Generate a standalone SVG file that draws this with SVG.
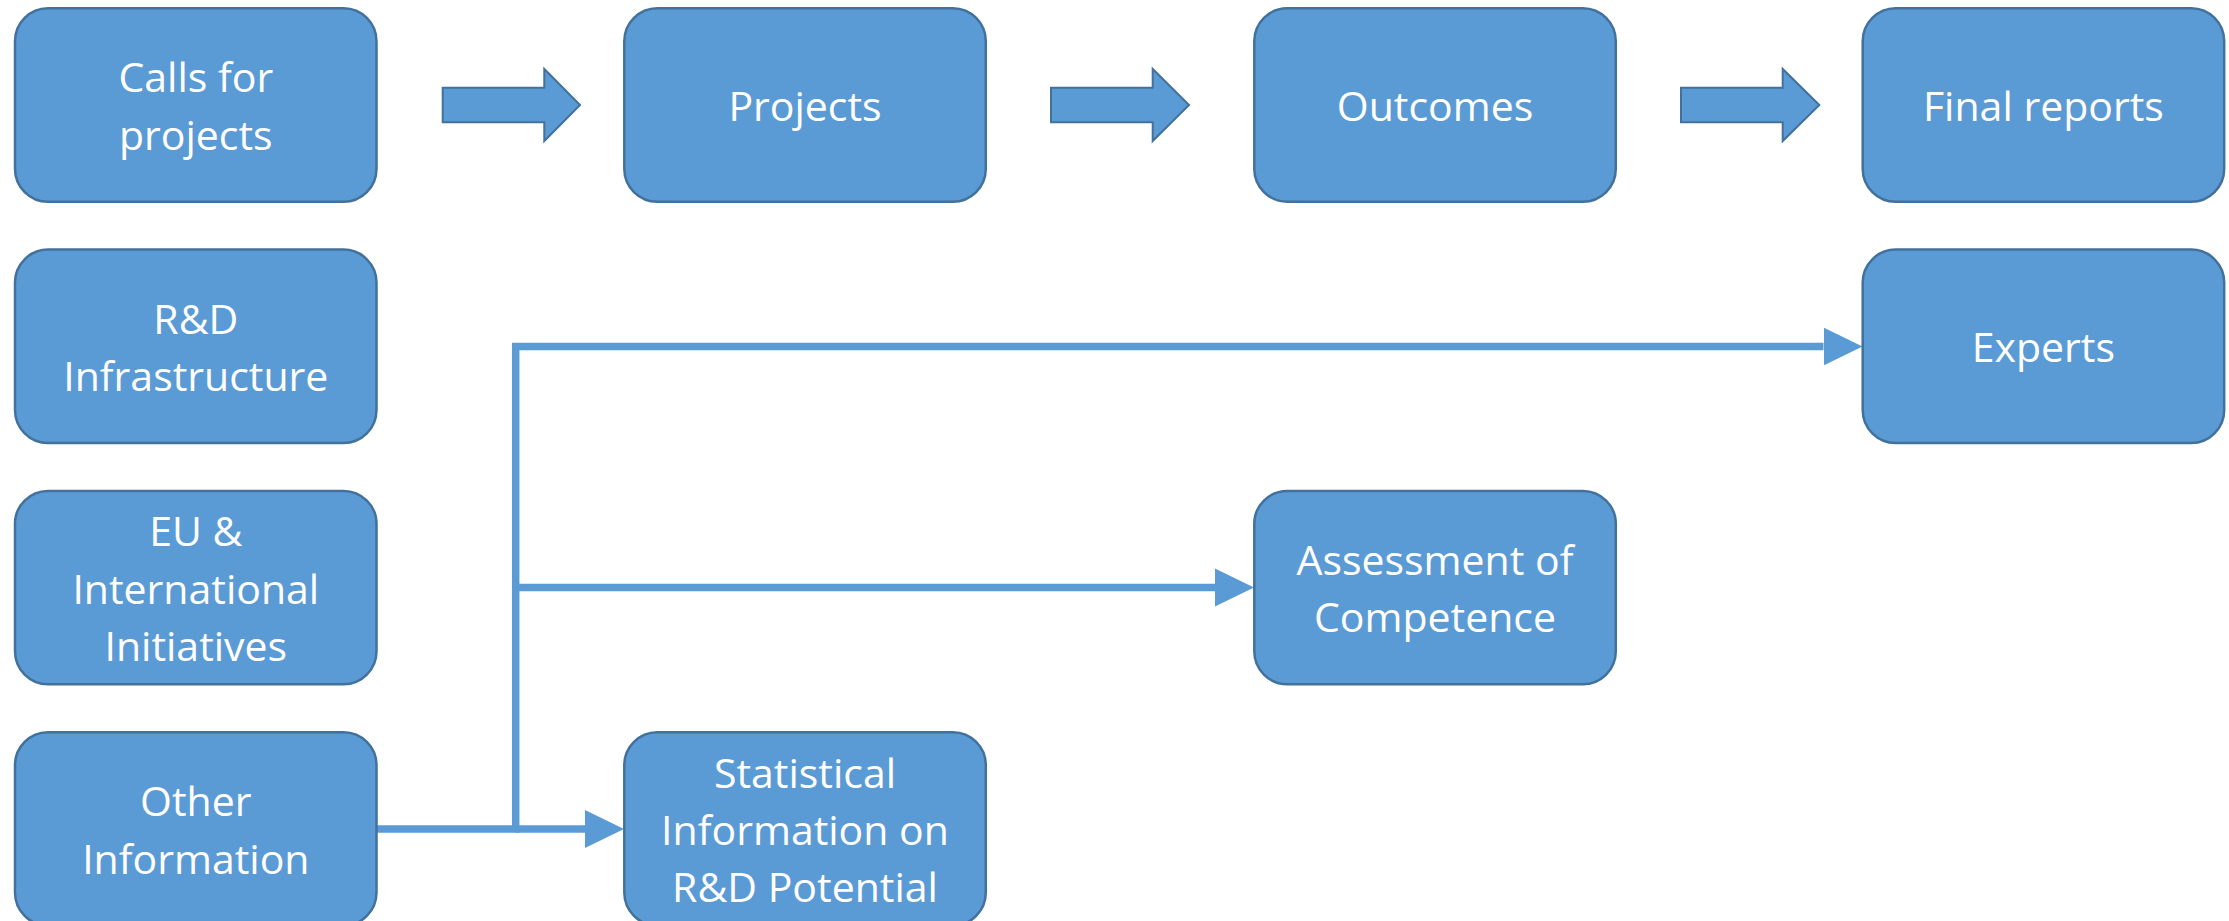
<svg xmlns="http://www.w3.org/2000/svg" width="2229" height="921" viewBox="0 0 2229 921">
<style>
.box{fill:#5B9BD5;stroke:#41719C;stroke-width:2.5}
.blk{fill:#5B9BD5;stroke:#41719C;stroke-width:2;stroke-linejoin:miter}
.lbl{font-family:"Open Sans","Noto Sans",sans-serif;font-size:41px;fill:#FFFFFF;text-anchor:middle}
.con{fill:none;stroke:#5B9BD5;stroke-width:7.5;stroke-linejoin:miter}
</style>
<defs>
<marker id="ah" markerUnits="userSpaceOnUse" markerWidth="40" markerHeight="40" refX="0" refY="19" orient="auto" viewBox="0 0 40 38">
<path d="M0,0 L39,19 L0,38 Z" fill="#5B9BD5"/>
</marker>
</defs>
<rect width="2229" height="921" fill="#FFFFFF"/>

<g id="connectors">
<path class="con" d="M376.7,828.9 H515.7 V346.5 H1823.5" marker-end="url(#ah)"/>
<path class="con" d="M515.7,587.5 H1215" marker-end="url(#ah)"/>
<path class="con" d="M515.7,828.9 H585" marker-end="url(#ah)"/>
<polygon class="blk" points="442.7,87.7 544.3,87.7 544.3,69 580,105 544.3,141 544.3,122.3 442.7,122.3"/>
<polygon class="blk" points="1051,87.7 1152.7,87.7 1152.7,69 1189,105 1152.7,141 1152.7,122.3 1051,122.3"/>
<polygon class="blk" points="1681,87.7 1782.7,87.7 1782.7,69 1819.3,105 1782.7,141 1782.7,122.3 1681,122.3"/>
</g>

<g id="calls">
<rect class="box" x="15" y="8.3" width="361.5" height="193.4" rx="33" ry="33"/>
<text class="lbl" x="195.8" y="92.4">Calls for</text>
<text class="lbl" x="195.8" y="149.7">projects</text>
</g>
<g id="projects">
<rect class="box" x="624.3" y="8.3" width="361.5" height="193.4" rx="33" ry="33"/>
<text class="lbl" x="805" y="121">Projects</text>
</g>
<g id="outcomes">
<rect class="box" x="1254.3" y="8.3" width="361.5" height="193.4" rx="33" ry="33"/>
<text class="lbl" x="1435" y="121">Outcomes</text>
</g>
<g id="final">
<rect class="box" x="1862.7" y="8.3" width="361.5" height="193.4" rx="33" ry="33"/>
<text class="lbl" x="2043.4" y="121">Final reports</text>
</g>
<g id="rd">
<rect class="box" x="15" y="249.6" width="361.5" height="193.4" rx="33" ry="33"/>
<text class="lbl" x="195.8" y="333.7">R&amp;D</text>
<text class="lbl" x="195.8" y="391">Infrastructure</text>
</g>
<g id="experts">
<rect class="box" x="1862.7" y="249.6" width="361.5" height="193.4" rx="33" ry="33"/>
<text class="lbl" x="2043.4" y="362.3">Experts</text>
</g>
<g id="eu">
<rect class="box" x="15" y="490.9" width="361.5" height="193.4" rx="33" ry="33"/>
<text class="lbl" x="195.8" y="546.3">EU &amp;</text>
<text class="lbl" x="195.8" y="603.6">International</text>
<text class="lbl" x="195.8" y="660.9">Initiatives</text>
</g>
<g id="assessment">
<rect class="box" x="1254.3" y="490.9" width="361.5" height="193.4" rx="33" ry="33"/>
<text class="lbl" x="1435" y="575">Assessment of</text>
<text class="lbl" x="1435" y="632.3">Competence</text>
</g>
<g id="other">
<rect class="box" x="15" y="732.2" width="361.5" height="193.4" rx="33" ry="33"/>
<text class="lbl" x="195.8" y="816.3">Other</text>
<text class="lbl" x="195.8" y="873.6">Information</text>
</g>
<g id="statistical">
<rect class="box" x="624.3" y="732.2" width="361.5" height="193.4" rx="33" ry="33"/>
<text class="lbl" x="805" y="787.6">Statistical</text>
<text class="lbl" x="805" y="844.9">Information on</text>
<text class="lbl" x="805" y="902.2">R&amp;D Potential</text>
</g>
</svg>
